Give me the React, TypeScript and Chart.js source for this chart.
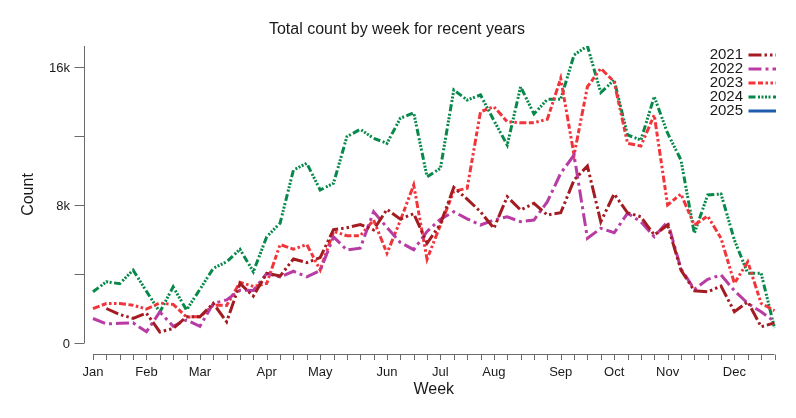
import { useEffect, useRef } from "react";
import { Chart, registerables } from "chart.js";

Chart.register(...registerables);

// Week numbers along the x axis
const weeks = [
  1, 2, 3, 4, 5, 6, 7, 8, 9, 10, 11, 12, 13, 14, 15, 16, 17, 18, 19, 20, 21, 22, 23, 24, 25, 26,
  27, 28, 29, 30, 31, 32, 33, 34, 35, 36, 37, 38, 39, 40, 41, 42, 43, 44, 45, 46, 47, 48, 49, 50, 51, 52,
];

// Month labels and the week index where each month starts
const monthNames = ["Jan", "Feb", "Mar", "Apr", "May", "Jun", "Jul", "Aug", "Sep", "Oct", "Nov", "Dec"];
const monthWeekIndex = [0, 4, 8, 13, 17, 22, 26, 30, 35, 39, 43, 48];

// Y axis ticks
const yTickValues = [0, 4000, 8000, 12000, 16000];
const yTickLabels = ["0", "", "8k", "", "16k"];

const years = ["2021", "2022", "2023", "2024", "2025"];

const counts2021 = [
  null, 2000, 1650, 1430, 1730, 640, 840, 1520, 1520, 2300, 1230, 3450, 2720, 4040, 3880, 4870,
  4660, 4950, 6570, 6680, 6870, 6560, 7750, 7180, 7500, 5780, 6900, 9020, 8340, 7610, 6650, 8480,
  7710, 8100, 7420, 7550, 9450, 10260, 7030, 8640, 7550, 7320, 6260, 6840, 4230, 3030, 2970, 3300,
  1810, 2390, 940, 1170,
];

const counts2022 = [
  1420, 1110, 1140, 1170, 650, 1800, 970, 1340, 970, 2290, 2500, 3060, 3050, 4030, 3830, 4160,
  3840, 4200, 6150, 5390, 5500, 7610, 6700, 5830, 5410, 6470, 7180, 7610, 7200, 6840, 7130, 7320,
  7030, 7130, 8190, 9840, 10900, 6070, 6650, 6390, 7520, 7030, 6160, 7030, 4300, 3110, 3690, 3940,
  3030, 2300, 1810, 1240,
];

const counts2023 = [
  1990, 2290, 2290, 2190, 1970, 2320, 2240, 1510, 1520, 2190, 2180, 3520, 3280, 3450, 5710, 5440,
  5710, 4230, 6470, 6220, 6220, 7130, 5200, 7100, 9160, 4860, 6840, 8800, 8970, 13410, 13700, 12830,
  12770, 12770, 12970, 15340, 10900, 14860, 15920, 15150, 11580, 11420, 13220, 8000, 8640, 6840, 7360, 6070,
  3460, 4710, 2300, 1880,
];

const counts2024 = [
  2970, 3550, 3440, 4230, 3000, 1790, 3260, 1910, 3110, 4330, 4710, 5430, 4130, 6160, 6950, 10030,
  10420, 8870, 9260, 11960, 12390, 11870, 11580, 13030, 13350, 9640, 10130, 14670, 14090, 14380, 12900, 11480,
  14860, 13280, 14130, 14130, 16700, 17220, 14520, 15250, 12060, 11770, 14280, 12160, 10610, 6360, 8580, 8640,
  5970, 4040, 4040, 870,
];

const counts2025: (number | null)[] = [];

const seriesCounts = [counts2021, counts2022, counts2023, counts2024, counts2025];
const seriesColors = ["#a31c22", "#b93ba4", "#f0353b", "#06894a", "#1f5cae"];
const seriesDashes = [
  [13, 3, 2.5, 3, 2.5, 3],
  [13, 4, 3, 4],
  [7, 2.5, 5, 2.5, 2.5, 2.5, 2.5, 2.5],
  [7, 2.5, 2, 1.5, 2, 1.5, 2, 1.5, 2, 2.5],
  [],
];

const FONT = '"Liberation Sans", Arial, Helvetica, sans-serif';
const TEXT = "#1a1a1a";
const AXIS = "#6a6a6a";

const yMax = Math.max(
  ...seriesCounts.flat().filter((v): v is number => typeof v === "number")
);

const offsetAxesPlugin = {
  id: "offsetAxes",
  afterDraw(chart: any) {
    const { ctx, chartArea, scales } = chart;
    const xs = scales.x;
    const ys = scales.y;
    ctx.save();

    // Y axis, drawn a little left of the plotting area
    const ax = Math.round(chartArea.left - 9.5) + 0.5;
    ctx.strokeStyle = AXIS;
    ctx.lineWidth = 1;
    ctx.beginPath();
    ctx.moveTo(ax, ys.getPixelForValue(ys.max));
    ctx.lineTo(ax, ys.getPixelForValue(0));
    ctx.stroke();

    ctx.font = `13px ${FONT}`;
    ctx.fillStyle = TEXT;
    ctx.textAlign = "right";
    ctx.textBaseline = "alphabetic";
    yTickValues.forEach((v, i) => {
      const py = Math.round(ys.getPixelForValue(v)) + 0.5;
      ctx.beginPath();
      ctx.moveTo(ax - 10, py);
      ctx.lineTo(ax, py);
      ctx.stroke();
      if (yTickLabels[i]) ctx.fillText(yTickLabels[i], ax - 14.5, py + 4.5);
    });

    // X axis, drawn a little below the plotting area
    const ay = Math.round(chartArea.bottom + 11) + 0.5;
    const x0 = xs.getPixelForValue(0);
    const x1 = xs.getPixelForValue(weeks.length - 1);
    ctx.beginPath();
    ctx.moveTo(x0, ay);
    ctx.lineTo(x1, ay);
    ctx.stroke();
    weeks.forEach((_, i) => {
      const px = Math.round(xs.getPixelForValue(i)) + 0.5;
      ctx.beginPath();
      ctx.moveTo(px, ay);
      ctx.lineTo(px, ay + 5.5);
      ctx.stroke();
    });
    ctx.textAlign = "center";
    monthWeekIndex.forEach((wi, i) => {
      ctx.fillText(monthNames[i], xs.getPixelForValue(wi), ay + 21.5);
    });

    // Axis titles
    ctx.font = `16px ${FONT}`;
    ctx.fillText("Week", (x0 + x1) / 2, ay + 39);
    ctx.save();
    ctx.translate(33, (chartArea.top + chartArea.bottom) / 2);
    ctx.rotate(-Math.PI / 2);
    ctx.fillText("Count", 0, 0);
    ctx.restore();

    // Chart title
    ctx.fillText("Total count by week for recent years", chart.width / 2 - 1, 33.5);

    // Legend: labels on the left, line samples on the right
    ctx.font = `15px ${FONT}`;
    ctx.textAlign = "right";
    chart.data.datasets.forEach((ds: any, i: number) => {
      const ly = 55 + 14 * i;
      ctx.fillStyle = TEXT;
      ctx.fillText(ds.label, chart.width - 53, ly + 4.3);
      ctx.save();
      ctx.strokeStyle = ds.borderColor;
      ctx.lineWidth = 3;
      ctx.setLineDash(ds.borderDash || []);
      ctx.beginPath();
      ctx.moveTo(chart.width - 47.5, ly);
      ctx.lineTo(chart.width - 20, ly);
      ctx.stroke();
      ctx.restore();
    });

    ctx.restore();
  },
};

export default function App() {
  const canvasRef = useRef<HTMLCanvasElement | null>(null);

  useEffect(() => {
    if (!canvasRef.current) return;
    const chart = new Chart(canvasRef.current, {
      type: "line",
      data: {
        labels: weeks,
        datasets: years.map((year, i) => ({
          label: year,
          data: seriesCounts[i],
          borderColor: seriesColors[i],
          backgroundColor: seriesColors[i],
          borderDash: seriesDashes[i],
          borderWidth: 3,
          borderCapStyle: "butt" as const,
          borderJoinStyle: "miter" as const,
          pointRadius: 0,
          pointHoverRadius: 0,
          tension: 0,
          fill: false,
          spanGaps: false,
        })),
      },
      options: {
        responsive: false,
        animation: false,
        devicePixelRatio: 1,
        layout: {
          autoPadding: false,
          padding: { left: 93, right: 21.5, top: 46, bottom: 75 },
        },
        scales: {
          x: { type: "category", display: false, offset: false },
          y: { type: "linear", display: false, min: 0, max: yMax },
        },
        plugins: {
          legend: { display: false },
          title: { display: false },
          tooltip: { enabled: false },
        },
        events: [],
      },
      plugins: [offsetAxesPlugin],
    });
    return () => chart.destroy();
  }, []);

  return (
    <div style={{ position: "absolute", left: 0, top: 0, width: 796, height: 418, background: "#fff" }}>
      <canvas ref={canvasRef} width={796} height={418} style={{ display: "block" }} />
    </div>
  );
}
